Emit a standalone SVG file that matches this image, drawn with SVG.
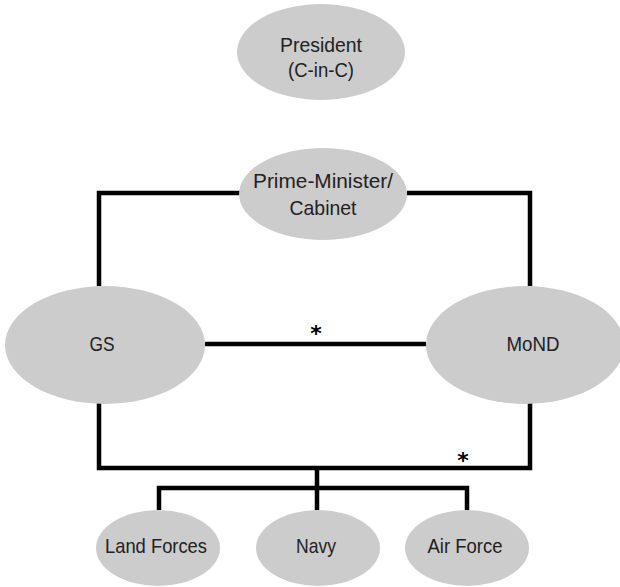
<svg xmlns="http://www.w3.org/2000/svg" width="620" height="587" viewBox="0 0 620 587">
<style>
.n{fill:#cccccc;stroke:none}
.t{font-family:"Liberation Sans",Arial,sans-serif;font-size:21px;fill:#222;text-anchor:middle}
.c{fill:none;stroke:#000;stroke-width:4.5;stroke-linecap:butt;stroke-linejoin:miter}
.s{font-family:"DejaVu Sans",sans-serif;font-size:22px;font-weight:bold;fill:#000;text-anchor:middle}
</style>
<rect width="620" height="587" fill="#fff"/>
<g id="connectors">
<path class="c" d="M240,193 H99 V286"/>
<path class="c" d="M407,193 H530 V286"/>
<path class="c" d="M205,344 H426"/>
<path class="c" d="M99,403 V468 H530 V403"/>
<path class="c" d="M317,468 V488"/>
<path class="c" d="M159,510 V488 H467 V510"/>
<path class="c" d="M317,488 V510"/>
<text class="s" x="316" y="341">*</text>
<text class="s" x="463" y="468">*</text>
</g>
<g id="president">
<ellipse class="n" cx="321" cy="52" rx="84" ry="48"/>
<text class="t" x="321" y="52" textLength="82" lengthAdjust="spacingAndGlyphs">President</text>
<text class="t" x="321" y="77" textLength="66" lengthAdjust="spacingAndGlyphs">(C-in-C)</text>
</g>
<g id="pm">
<ellipse class="n" cx="323" cy="194" rx="84" ry="46"/>
<text class="t" x="323" y="188" textLength="140" lengthAdjust="spacingAndGlyphs">Prime-Minister/</text>
<text class="t" x="323" y="215" textLength="67" lengthAdjust="spacingAndGlyphs">Cabinet</text>
</g>
<g id="gs">
<ellipse class="n" cx="105" cy="345" rx="100" ry="59"/>
<text class="t" x="102" y="351" textLength="25" lengthAdjust="spacingAndGlyphs">GS</text>
</g>
<g id="mond">
<ellipse class="n" cx="525" cy="345" rx="99" ry="59"/>
<text class="t" x="533" y="351" textLength="53" lengthAdjust="spacingAndGlyphs">MoND</text>
</g>
<g id="land">
<ellipse class="n" cx="158" cy="548" rx="62" ry="38"/>
<text class="t" x="156" y="553" textLength="102" lengthAdjust="spacingAndGlyphs">Land Forces</text>
</g>
<g id="navy">
<ellipse class="n" cx="318" cy="548" rx="62" ry="38"/>
<text class="t" x="316" y="553" textLength="40" lengthAdjust="spacingAndGlyphs">Navy</text>
</g>
<g id="airforce">
<ellipse class="n" cx="467" cy="548" rx="62" ry="38"/>
<text class="t" x="465" y="553" textLength="75" lengthAdjust="spacingAndGlyphs">Air Force</text>
</g>
</svg>
